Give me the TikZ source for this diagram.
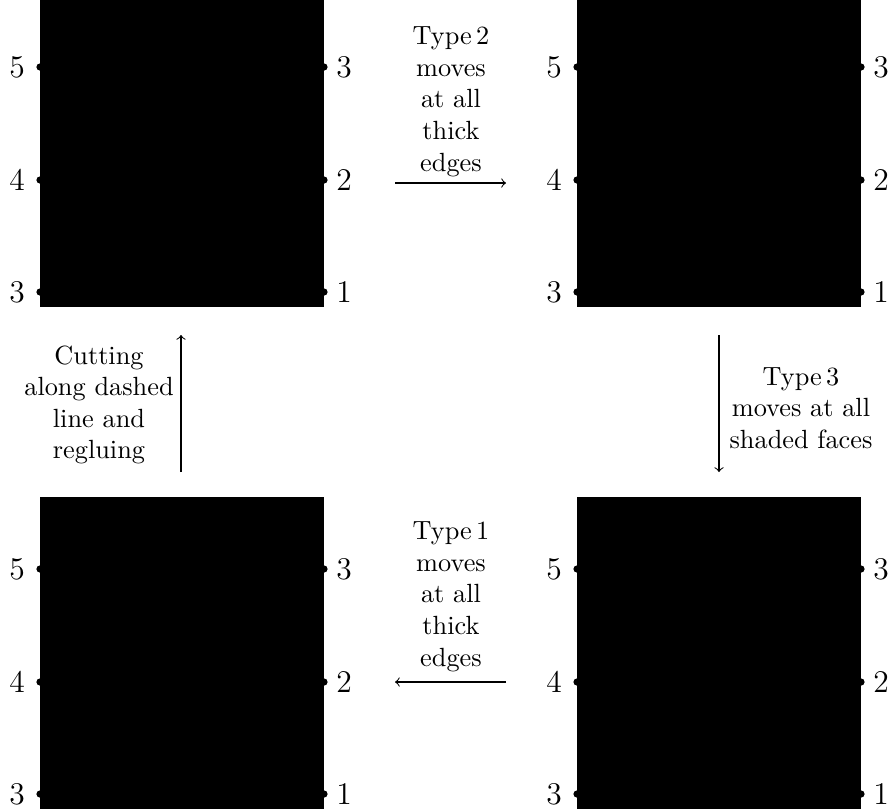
\documentclass[tikz,border=0pt]{standalone}
\newcommand\mypanel[3]{%
  \begin{scope}[shift={(#1,#2)}]
    \fill[black] (0,-3) rectangle (284,309);
    \foreach \yy/\ll/\rr/\k in {69/5/3/a,182/4/2/b,294/3/1/c}{
      \fill (0,\yy) circle[radius=3.6];
      \fill (284,\yy) circle[radius=3.6];
      \node[lbl] (#3L\k) at (-23,\yy) {$\ll$};
      \node[lbl] (#3R\k) at (304,\yy) {$\rr$};
    }
  \end{scope}}
\begin{document}
\begin{tikzpicture}[x=0.38pt,y=-0.38pt,
  lbl/.style={inner sep=0pt,font=\large},
  txt/.style={align=center,inner sep=0pt},
  arr/.style={->,line width=0.4pt}]
\useasboundingbox (0,0) rectangle (891,809);
\mypanel{40}{-2}{TL}
\mypanel{577}{-2}{TR}
\mypanel{40}{500}{BL}
\mypanel{577}{500}{BR}
% arrows
\coordinate (t1) at (395,183); \coordinate (t2) at (506,183);
\coordinate (l1) at (181,472); \coordinate (l2) at (181,335);
\coordinate (r1) at (719,335); \coordinate (r2) at (719,472);
\coordinate (b1) at (506,682); \coordinate (b2) at (395,682);
\draw[arr] (t1) -- (t2);
\draw[arr] (l1) -- (l2);
\draw[arr] (r1) -- (r2);
\draw[arr] (b1) -- (b2);
% texts
\node[txt,anchor=south] (ttop) at (451,177) {Type\,2\\moves\\at all\\thick\\edges};
\node[txt] (tleft) at (99,405) {Cutting\\along dashed\\line and\\regluing};
\node[txt] (tright) at (801,408) {Type\,3\\moves at all\\shaded faces};
\node[txt,anchor=south] (tbot) at (451,672) {Type\,1\\moves\\at all\\thick\\edges};
\end{tikzpicture}
\end{document}
